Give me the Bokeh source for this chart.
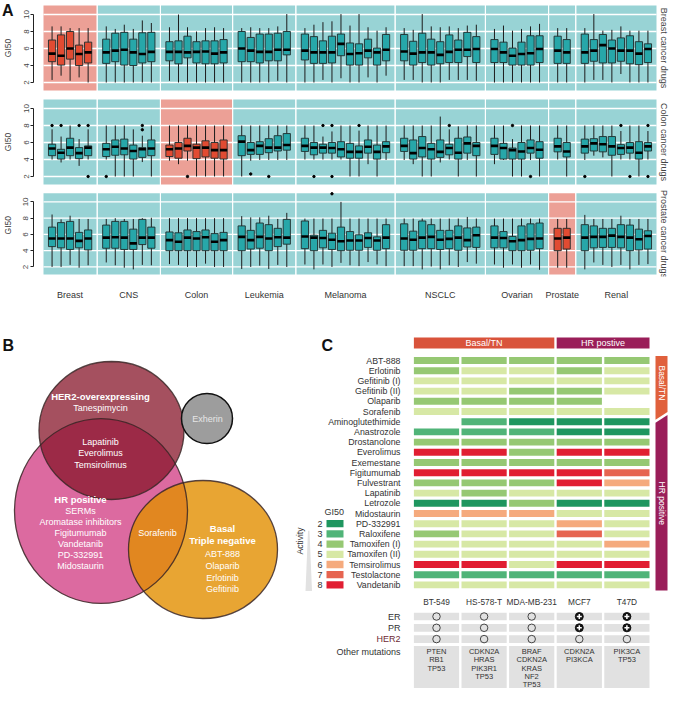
import math
from bokeh.plotting import figure
from bokeh.layouts import column, row
from bokeh.models import Range1d, LinearAxis, FixedTicker
from bokeh.core.properties import value
from bokeh.embed import file_html
from bokeh.resources import INLINE

FONT = value("Liberation Sans")

# ------------------------------------------------------------------ data A
tissues = ["Breast", "CNS", "Colon", "Leukemia", "Melanoma", "NSCLC", "Ovarian", "Prostate", "Renal"]
n_lines = [5, 6, 7, 6, 10, 9, 6, 2, 8]
drug_groups = ["Breast cancer drugs", "Colon cancer drugs", "Prostate cancer drugs"]
highlight_tissue = ["Breast", "Colon", "Prostate"]

# Breast cancer drugs (59 cell lines, tissue order above)
bd_lo = [2.3, 2.8, 2.2, 2.6, 2.0, 2.0, 2.0, 2.0, 2.0, 2.0, 2.0, 2.2, 2.0, 2.0, 2.0, 2.0, 2.0, 2.0,
         2.0, 2.0, 2.0, 2.0, 2.2, 2.0, 2.0, 2.0, 2.3, 2.0, 2.5, 2.0, 2.0, 2.6, 2.0, 2.8,
         2.3, 2.3, 2.0, 2.0, 2.0, 2.3, 2.3, 2.3, 2.2, 2.0, 2.0, 2.0, 2.0, 2.0, 2.0, 2.0, 2.0,
         2.0, 2.3, 2.3, 2.0, 3.0, 2.0, 2.0, 2.0]
bd_q1 = [4.45, 4.05, 4.75, 4.0, 4.3, 4.25, 4.45, 4.05, 4.0, 4.3, 4.45, 4.55, 4.2, 4.9, 4.3, 4.2, 4.2, 4.3,
         4.45, 4.45, 4.3, 4.55, 4.55, 5.25, 4.65, 4.25, 4.25, 4.3, 5.15, 4.05, 4.05, 4.9, 4.05, 4.55,
         4.55, 4.05, 4.35, 4.05, 4.2, 4.35, 4.35, 5.05, 4.35, 4.35, 4.35, 4.05, 4.05, 4.05, 4.35, 4.25, 4.25,
         4.25, 4.5, 4.3, 4.3, 4.5, 4.2, 4.1, 4.35]
bd_med = [5.4, 5.15, 6.0, 5.35, 5.55, 5.55, 5.75, 5.85, 5.55, 5.35, 5.6, 5.6, 5.6, 5.55, 5.6, 5.65, 5.4, 5.55,
          6.0, 5.75, 5.6, 5.6, 5.85, 5.85, 5.75, 5.55, 5.55, 5.55, 6.55, 5.35, 5.45, 5.75, 5.55, 5.85,
          5.65, 5.4, 5.55, 5.55, 5.25, 5.6, 5.85, 5.85, 5.95, 5.95, 5.55, 5.15, 5.35, 5.45, 5.95, 5.75, 5.55,
          5.55, 5.75, 6.4, 6.0, 5.75, 5.75, 5.4, 5.95]
bd_q3 = [7.0, 7.6, 8.0, 6.4, 6.75, 7.1, 7.8, 7.9, 7.1, 7.85, 7.9, 6.8, 6.9, 7.45, 6.8, 6.9, 6.9, 7.05,
         8.0, 7.3, 7.7, 7.7, 7.8, 8.0, 7.7, 7.4, 6.9, 7.45, 7.7, 6.65, 6.55, 7.1, 6.05, 7.65,
         7.65, 6.85, 7.8, 7.1, 6.8, 7.6, 7.0, 7.9, 7.4, 7.05, 6.75, 6.05, 6.75, 7.5, 7.5, 7.45, 7.05,
         7.7, 7.05, 7.65, 7.0, 7.25, 7.5, 6.8, 6.55]
bd_hi = [8.6, 8.6, 8.4, 8.4, 8.4, 8.6, 8.3, 8.8, 8.3, 9.3, 9.0, 8.5, 10.0, 8.5, 8.0, 8.4, 8.5, 8.4,
         8.4, 8.5, 8.4, 8.4, 8.6, 10.05, 8.4, 8.8, 9.1, 9.2, 10.05, 8.7, 10.05, 8.5, 8.1, 8.5,
         8.4, 8.2, 10.05, 8.6, 8.5, 8.6, 8.4, 8.7, 8.8, 8.3, 8.7, 8.1, 8.3, 8.6, 8.9, 8.4, 8.4,
         8.4, 10.05, 8.1, 8.2, 8.6, 8.1, 8.1, 8.1]
bd_out_idx = []
bd_out_val = []

# Colon cancer drugs
cd_lo = [4.0, 3.65, 4.0, 3.25, 4.0, 4.0, 2.0, 2.0, 2.0, 3.7, 2.0, 3.85, 3.45, 3.85, 2.0, 2.0, 2.0, 2.0,
         2.0, 3.85, 3.95, 3.95, 3.95, 3.95, 4.0, 4.0, 4.0, 4.0, 4.0, 2.0, 2.0, 3.45, 2.0, 3.95,
         3.95, 3.45, 2.0, 2.0, 3.65, 4.0, 2.0, 3.95, 2.0, 3.45, 3.95, 2.0, 2.0, 3.95, 2.0, 4.0, 2.0,
         3.95, 4.45, 4.25, 2.0, 4.0, 4.0, 2.0, 4.0]
cd_q1 = [4.45, 4.05, 4.45, 4.1, 4.45, 4.35, 4.5, 4.55, 4.05, 4.25, 4.45, 4.35, 4.15, 5.0, 4.1, 4.3, 4.15, 4.05,
         4.45, 4.6, 4.6, 4.8, 5.0, 5.1, 4.95, 4.55, 4.75, 4.75, 4.3, 4.15, 4.15, 4.75, 4.05, 4.8,
         4.95, 4.05, 4.3, 4.05, 4.25, 4.55, 4.05, 4.75, 4.45, 4.6, 4.05, 4.05, 4.05, 4.75, 4.15, 4.9, 4.3,
         4.75, 5.0, 4.9, 4.5, 4.6, 4.75, 4.05, 5.0]
cd_med = [5.3, 4.8, 5.4, 4.75, 5.4, 5.2, 5.5, 5.3, 5.0, 5.2, 5.3, 5.2, 5.3, 5.6, 5.4, 5.4, 5.1, 5.1,
          6.1, 5.1, 5.6, 5.4, 5.4, 5.7, 5.6, 5.4, 5.4, 5.35, 5.2, 4.9, 4.9, 5.5, 4.9, 5.55,
          5.6, 4.75, 5.35, 5.2, 4.9, 5.35, 4.8, 5.9, 5.6, 5.6, 5.35, 5.1, 4.95, 5.35, 5.15, 5.55, 4.95,
          5.55, 5.9, 5.8, 5.55, 5.35, 5.4, 4.8, 5.55]
cd_q3 = [5.8, 5.2, 6.5, 5.4, 5.6, 5.9, 6.3, 6.4, 5.7, 5.4, 6.3, 5.7, 6.0, 6.5, 5.8, 6.2, 6.0, 6.3,
         6.8, 6.0, 6.1, 6.45, 6.8, 7.05, 6.5, 6.0, 5.8, 6.0, 6.1, 5.9, 5.6, 6.3, 5.7, 6.1,
         6.5, 6.3, 6.7, 5.9, 6.3, 5.8, 6.5, 6.65, 6.0, 6.5, 5.9, 5.35, 6.0, 6.3, 6.1, 6.5, 6.0,
         6.4, 6.45, 6.7, 6.7, 5.75, 6.0, 6.1, 6.0]
cd_hi = [7.55, 6.7, 8.0, 6.4, 7.55, 8.0, 8.0, 8.0, 7.55, 6.8, 8.0, 8.0, 8.0, 8.0, 8.0, 8.0, 8.0, 8.0,
         8.0, 8.0, 8.0, 8.0, 8.0, 8.0, 8.0, 8.0, 6.7, 7.3, 8.0, 8.0, 7.4, 8.0, 8.0, 8.0,
         8.0, 8.0, 8.0, 8.0, 9.05, 7.55, 7.9, 8.0, 8.0, 8.0, 8.0, 6.4, 8.0, 8.0, 8.0, 8.0, 8.0,
         8.0, 8.0, 8.0, 8.0, 7.35, 8.0, 8.0, 7.35]
cd_out_idx = [0, 1, 3, 4, 4, 5, 9, 9, 13, 19, 21, 25, 26, 27, 27, 30, 39, 45, 47, 51, 55, 56, 58, 58]
cd_out_val = [8, 8, 8, 8, 2, 2, 8, 7.5, 2, 2.3, 2, 2, 8, 8, 2, 8, 8, 8, 2, 2, 8, 2, 8, 2]

# Prostate cancer drugs
pd_lo = [2.0, 2.0, 2.25, 1.9, 2.2, 2.55, 2.2, 1.9, 1.7, 2.25, 2.2, 2.35, 2.25, 2.0, 2.0, 2.4, 2.0, 2.0,
         1.75, 2.0, 2.15, 1.75, 2.25, 2.0, 2.3, 1.7, 2.3, 2.0, 2.5, 2.2, 2.1, 2.6, 2.3, 2.1,
         2.1, 2.1, 1.7, 2.05, 1.7, 2.2, 2.0, 2.6, 2.4, 2.3, 1.9, 2.3, 1.9, 2.3, 1.65, 1.9, 1.9,
         1.7, 2.55, 2.25, 2.0, 2.25, 1.7, 2.25, 2.35]
pd_q1 = [4.5, 4.35, 4.15, 4.35, 4.1, 4.3, 4.3, 4.15, 4.15, 4.75, 4.3, 4.0, 4.0, 4.0, 4.0, 4.0, 4.0, 4.0,
         4.0, 4.2, 4.3, 4.0, 4.5, 4.8, 4.25, 4.0, 4.35, 4.15, 4.0, 4.05, 4.05, 4.4, 4.05, 4.25,
         4.05, 4.05, 4.25, 4.25, 4.15, 4.25, 4.05, 4.45, 4.4, 4.35, 4.35, 4.0, 4.0, 4.05, 4.25, 4.0, 4.2,
         4.0, 4.35, 4.4, 4.4, 4.35, 4.0, 4.1, 4.2]
pd_med = [5.5, 5.5, 5.5, 5.2, 5.5, 5.6, 5.65, 5.6, 4.9, 5.6, 5.6, 5.3, 5.1, 5.6, 5.5, 5.65, 5.1, 5.3,
          5.7, 5.3, 5.7, 5.5, 5.65, 5.6, 5.75, 5.6, 5.55, 5.35, 5.15, 5.25, 5.25, 5.55, 5.25, 5.6,
          5.5, 5.35, 5.6, 5.7, 5.35, 5.45, 5.6, 5.3, 5.9, 5.6, 5.55, 5.15, 5.3, 5.45, 5.5, 5.5, 5.6,
          5.6, 5.7, 5.7, 5.85, 5.7, 5.6, 5.4, 5.8]
pd_q3 = [6.9, 7.45, 7.6, 6.25, 6.55, 7.15, 7.6, 7.6, 6.65, 7.85, 6.9, 6.3, 6.2, 6.55, 6.35, 6.55, 6.1, 6.25,
         7.05, 6.5, 7.4, 7.2, 6.75, 7.85, 7.65, 5.9, 6.5, 6.15, 6.9, 6.35, 5.95, 6.2, 5.7, 7.2,
         7.3, 6.4, 7.65, 7.2, 6.5, 6.5, 7.05, 6.8, 6.9, 7.05, 6.35, 5.75, 7.05, 7.3, 7.4, 6.75, 6.75,
         7.2, 7.05, 6.75, 6.75, 7.2, 7.15, 6.65, 6.45]
pd_hi = [8.45, 7.85, 8.3, 7.9, 7.9, 7.9, 8.0, 7.9, 7.9, 8.0, 8.05, 8.0, 8.0, 8.0, 8.0, 8.0, 8.0, 8.0,
         8.25, 8.1, 8.1, 8.3, 7.9, 8.65, 7.95, 7.95, 7.95, 7.95, 10.0, 7.95, 7.95, 7.95, 7.95, 7.95,
         7.95, 7.95, 7.95, 7.95, 7.95, 7.95, 7.95, 8.15, 7.95, 7.95, 7.95, 7.95, 7.95, 7.95, 7.95, 7.9, 7.9,
         8.4, 7.9, 7.9, 7.9, 8.3, 7.9, 7.9, 7.9]
pd_out_idx = [27]
pd_out_val = [11.0]

# ------------------------------------------------------------------ data C
drugs = ["ABT-888", "Erlotinib", "Gefitinib (I)", "Gefitinib (II)", "Olaparib", "Sorafenib",
         "Aminoglutethimide", "Anastrozole", "Drostanolone", "Everolimus", "Exemestane",
         "Figitumumab", "Fulvestrant", "Lapatinib", "Letrozole", "Midostaurin", "PD-332991",
         "Raloxifene", "Tamoxifen (I)", "Tamoxifen (II)", "Temsirolimus", "Testolactone", "Vandetanib"]
cell_lines = ["BT-549", "HS-578-T", "MDA-MB-231", "MCF7", "T47D"]
gi50_bt549 = [4, 4, 5, 5, 4, 5, None, 3, 4, 8, 4, 8, 4, 5, 2, 6, 5, 4, 5, 5, 8, 3, 5]
gi50_hs578t = [4, 5, 5, 5, 4, 5, 3, 3, 4, 8, 4, 8, 4, 4, 2, 6, 5, 5, 5, 5, 8, 3, 5]
gi50_mdamb231 = [4, 5, 5, 4, 4, 5, 2, 3, 4, 4, 4, 8, 4, 5, 4, 6, 5, 5, 5, 5, 5, 3, 5]
gi50_mcf7 = [4, 4, 5, 4, 4, 5, 2, 2, 4, 8, 4, 8, 8, 5, 2, 5, 6, 7, 5, 5, 8, 3, 5]
gi50_t47d = [4, 5, 5, 5, None, 5, 2, 2, 4, 8, 4, 7, 6, 5, 2, 5, 5, 5, 6, 5, 8, 3, 5]
gi50_levels = [2, 3, 4, 5, 6, 7, 8]
gi50_colors = ["#1e965f", "#50b478", "#96c873", "#d7e8a5", "#f5aa7d", "#e66450", "#e11e32"]
er_status = [0, 0, 0, 1, 1]
pr_status = [0, 0, 0, 1, 1]
her2_status = [0, 0, 0, 0, 0]
mutations = [["PTEN", "RB1", "TP53"], ["CDKN2A", "HRAS", "PIK3R1", "TP53"],
             ["BRAF", "CDKN2A", "KRAS", "NF2", "TP53"], ["CDKN2A", "PI3KCA"], ["PIK3CA", "TP53"]]
n_basal_drugs = 6

# ------------------------------------------------------------------ styles
TEAL_BG = "#98d3d5"
PINK_BG = "#eca096"
TEAL_BOX = "#27a7a9"
RED_BOX = "#e14b32"


def mk(width, height, xr, yr, **kw):
    p = figure(width=width, height=height, x_range=xr, y_range=yr,
               x_axis_type=None, y_axis_type=None, toolbar_location=None,
               output_backend="svg", min_border=0, outline_line_color=None,
               background_fill_color="white", border_fill_color="white", **kw)
    return p


# ------------------------------------------------------------------ Panel A
PXU = 8.5                      # px per GI50 unit
LABEL_W = 18
PANEL_L, PANEL_R, FRAME_L, FRAME_R = 43.0, 656.0, 33.0, 669.0
u = (PANEL_R - PANEL_L - (len(n_lines) - 1)) / sum(n + 0.9 for n in n_lines)
gap = 1.0 / u
f_start, f_end, xs, box_tissue = [], [], [], []
pos = 0.0
for k, n in enumerate(n_lines):
    f_start.append(pos)
    for j in range(n):
        xs.append(pos + 0.95 + j)
        box_tissue.append(tissues[k])
    pos += n + 0.9
    f_end.append(pos)
    pos += gap
TOTAL = f_end[-1]
XS = -(PANEL_L - FRAME_L) / u
XE = TOTAL + (FRAME_R - PANEL_R) / u
f_center = [(a + b) / 2 for a, b in zip(f_start, f_end)]


def panel_a(r, lo, q1, med, q3, hi, oi, ov, fig_h, ftop, fbot, y10, show_x):
    vt = 10 + (y10 - ftop) / PXU
    vb = 10 - (fbot - y10) / PXU
    p = mk(int(FRAME_R - LABEL_W), fig_h, Range1d(XS, XE), Range1d(vb, vt),
           min_border_left=int(FRAME_L - LABEL_W), min_border_bottom=(22 if show_x else 0))
    bg = [PINK_BG if t == highlight_tissue[r] else TEAL_BG for t in tissues]
    p.quad(left=f_start, right=f_end, bottom=1.06, top=11.06, fill_color=bg, line_color=None)
    gy = [2, 4, 6, 8, 10]
    p.segment(x0=[0] * 5, x1=[TOTAL] * 5, y0=gy, y1=gy, line_color="white", line_width=1.3)
    p.quad(left=f_end[:-1], right=f_start[1:], bottom=1.0, top=11.2, fill_color="white", line_color=None)
    fc = [RED_BOX if t == highlight_tissue[r] else TEAL_BOX for t in box_tissue]
    p.segment(x0=xs, x1=xs, y0=lo, y1=hi, line_color="#1c1c1c", line_width=1)
    p.quad(left=[x - 0.4 for x in xs], right=[x + 0.4 for x in xs], bottom=q1, top=q3,
           fill_color=fc, line_color="#1f2d2d", line_width=0.9)
    p.segment(x0=[x - 0.4 for x in xs], x1=[x + 0.4 for x in xs], y0=med, y1=med,
              line_color="black", line_width=2.6)
    if oi:
        p.scatter(x=[xs[i] for i in oi], y=ov, size=2.4, color="black")
    p.text(x=[TOTAL + 7.8 / u], y=[6.06], text=[drug_groups[r]], angle=-math.pi / 2,
           text_align="center", text_baseline="middle", text_font=FONT,
           text_font_size="9px", text_color="#444444")
    ax = LinearAxis(ticker=FixedTicker(ticks=[2, 4, 6, 8, 10]), bounds=(2, 10))
    ax.major_label_orientation = "vertical"
    ax.major_tick_out = 3
    ax.major_tick_in = 0
    ax.minor_tick_out = 0
    ax.minor_tick_in = 0
    ax.major_label_standoff = 2
    ax.axis_line_color = "#222222"
    ax.major_tick_line_color = "#222222"
    ax.major_label_text_font = "Liberation Sans"
    ax.major_label_text_font_size = "8px"
    ax.major_label_text_color = "#444444"
    p.add_layout(ax, "left")
    if show_x:
        bx = LinearAxis(ticker=FixedTicker(ticks=f_center),
                        major_label_overrides={c: t for c, t in zip(f_center, tissues)})
        bx.axis_line_color = None
        bx.major_tick_line_color = None
        bx.minor_tick_line_color = None
        bx.major_label_standoff = 7
        bx.major_label_text_font = "Liberation Sans"
        bx.major_label_text_font_size = "9px"
        bx.major_label_text_color = "#333333"
        p.add_layout(bx, "below")
    return p


def label_a(fig_h, yc, with_letter):
    q = mk(LABEL_W, fig_h, Range1d(0, LABEL_W), Range1d(fig_h, 0))
    q.text(x=[7.5], y=[yc], text=["GI50"], angle=math.pi / 2, text_align="center",
           text_baseline="middle", text_font=FONT, text_font_size="8.5px", text_color="#444444")
    if with_letter:
        q.text(x=[1.5], y=[1.5], text=["A"], text_align="left", text_baseline="top", text_font=FONT,
               text_font_size="16px", text_font_style="bold", text_color="#111111")
    return q


pA1 = panel_a(0, bd_lo, bd_q1, bd_med, bd_q3, bd_hi, bd_out_idx, bd_out_val, 94, 0, 94, 14, False)
pA2 = panel_a(1, cd_lo, cd_q1, cd_med, cd_q3, cd_hi, cd_out_idx, cd_out_val, 94, 94, 188, 108, False)
pA3 = panel_a(2, pd_lo, pd_q1, pd_med, pd_q3, pd_hi, pd_out_idx, pd_out_val, 114, 188, 280, 202, True)
lA1 = label_a(94, 47.5, True)
lA2 = label_a(94, 141.5 - 94, False)
lA3 = label_a(114, 235.5 - 188, False)

# ------------------------------------------------------------------ Panel B
B_W = 292
pB = mk(B_W, 386, Range1d(0, B_W), Range1d(688, 302))
pB.ellipse(x=[100.5], y=[510.5], width=[173], height=[185], fill_color="#dc6aa0", line_color=None)
pB.ellipse(x=[202.5], y=[549], width=[149], height=[138], fill_color="#e28e00", fill_alpha=0.8, line_color=None)
pB.ellipse(x=[111], y=[430], width=[145], height=[138], fill_color="#871529", fill_alpha=0.75, line_color=None)
pB.ellipse(x=[100.5, 202.5, 111], y=[510.5, 549, 430], width=[173, 149, 145], height=[185, 138, 138],
           fill_color=None, line_color="#3a2626", line_width=1.3, line_alpha=0.85)
pB.ellipse(x=[206.5], y=[418], width=[51], height=[50], fill_color="#9d9d9d", line_color="#111111", line_width=1.5)

b_bold = [("HER2-overexpressing", 100, 396), ("HR positive", 80, 498.5),
          ("Basal", 222, 527.5), ("Triple negative", 222, 540)]
b_norm = [("Tanespimycin", 100, 407.5), ("Lapatinib", 100, 441), ("Everolimus", 100, 452.5),
          ("Temsirolimus", 100, 464), ("SERMs", 80, 510), ("Aromatase inhibitors", 80, 521.5),
          ("Figitumumab", 80, 532.5), ("Vandetanib", 80, 543.5), ("PD-332991", 80, 554.5),
          ("Midostaurin", 80, 565.5), ("Sorafenib", 157, 532), ("ABT-888", 222, 553),
          ("Olaparib", 222, 565), ("Erlotinib", 222, 577), ("Gefitinib", 222, 588)]
pB.text(x=[t[1] for t in b_bold], y=[t[2] for t in b_bold], text=[t[0] for t in b_bold],
        text_align="center", text_baseline="middle", text_font=FONT, text_font_size="9.5px",
        text_font_style="bold", text_color="white")
pB.text(x=[t[1] for t in b_norm], y=[t[2] for t in b_norm], text=[t[0] for t in b_norm],
        text_align="center", text_baseline="middle", text_font=FONT, text_font_size="9px",
        text_color="white")
pB.text(x=[207], y=[418], text=["Exherin"], text_align="center", text_baseline="middle",
        text_font=FONT, text_font_size="9px", text_color="#e6e6e6")
pB.text(x=[2], y=[336], text=["B"], text_align="left", text_baseline="top", text_font=FONT,
        text_font_size="16px", text_font_style="bold", text_color="#111111")

# ------------------------------------------------------------------ Panel C
PX_C, PY_C, CX0, CY0 = 47.6, 10.2, 436.0, 360.0


def cx(px):
    return (px - CX0) / PX_C


def cy(py):
    return (py - CY0) / PY_C


pC = mk(669 - B_W, 386, Range1d(cx(B_W), cx(669)), Range1d(cy(688), cy(302)))
TXT = dict(text_font=FONT, text_color="#333333")
ndr = len(drugs)

# header bars
pC.quad(left=[-0.475, 2.525], right=[2.475, 4.475], top=[cy(337)] * 2, bottom=[cy(348)] * 2,
        fill_color=["#d9533b", "#9a1e59"], line_color=None)
pC.text(x=[1.0, 3.5], y=[cy(342.5)] * 2, text=["Basal/TN", "HR postive"], text_align="center",
        text_baseline="middle", text_font=FONT, text_font_size="9px", text_color="white")

# heatmap
gi_cols = [gi50_bt549, gi50_hs578t, gi50_mdamb231, gi50_mcf7, gi50_t47d]
cmap = dict(zip(gi50_levels, gi50_colors))
hx, hy, hc = [], [], []
for ci, col in enumerate(gi_cols):
    for ri, v in enumerate(col):
        if v is not None:
            hx.append(ci)
            hy.append(ri)
            hc.append(cmap[v])
pC.rect(x=hx, y=hy, width=0.95, height=0.68, fill_color=hc, line_color=None)
pC.text(x=[cx(400)] * ndr, y=list(range(ndr)), text=drugs, text_align="right",
        text_baseline="middle", text_font_size="8.8px", **TXT)

# right group bars
nb = n_basal_drugs
bl, br = cx(655), cx(667)
pC.patch(x=[bl, br, br, bl], y=[-0.45, -0.45, nb - 0.95, nb - 0.2], fill_color="#e0603c", line_color=None)
pC.patch(x=[bl, br, br, bl], y=[nb + 0.1, nb - 0.65, ndr - 0.45, ndr - 0.45],
         fill_color="#9a1e59", line_color=None)
pC.text(x=[(bl + br) / 2], y=[(nb - 1) / 2 - 0.3], text=["Basal/TN"], angle=-math.pi / 2,
        text_align="center", text_baseline="middle", text_font=FONT, text_font_size="8.5px",
        text_color="white")
pC.text(x=[(bl + br) / 2], y=[(nb + ndr - 1) / 2], text=["HR positive"], angle=-math.pi / 2,
        text_align="center", text_baseline="middle", text_font=FONT, text_font_size="8.5px",
        text_color="white")

# legend (rows aligned with the last seven heatmap rows)
leg_rows = [ndr - len(gi50_levels) + i for i in range(len(gi50_levels))]
pC.rect(x=[cx(334.5)] * len(gi50_levels), y=leg_rows, width=17 / PX_C, height=0.72,
        fill_color=gi50_colors, line_color=None)
pC.text(x=[cx(322)] * len(gi50_levels), y=leg_rows, text=[str(v) for v in gi50_levels],
        text_align="right", text_baseline="middle", text_font_size="9px", **TXT)
pC.text(x=[cx(324)], y=[leg_rows[0] - 1.1], text=["GI50"], text_align="left", text_baseline="middle",
        text_font_size="9px", **TXT)
pC.patch(x=[cx(307.5), cx(309), cx(311.5), cx(305)],
         y=[leg_rows[0] + 0.7, leg_rows[0] + 0.7, leg_rows[-1] + 0.6, leg_rows[-1] + 0.6],
         fill_color="#e2e2e2", line_color=None)
pC.text(x=[cx(299.5)], y=[leg_rows[0] + 1.7], text=["Activity"], angle=math.pi / 2, text_align="center",
        text_baseline="middle", text_font_size="8.5px", **TXT)
pC.text(x=[cx(321)], y=[cy(336)], text=["C"], text_align="left", text_baseline="top", text_font=FONT,
        text_font_size="16px", text_font_style="bold", text_color="#111111")

# table
ncol = len(cell_lines)
cols = list(range(ncol))
pC.text(x=cols, y=[cy(601)] * ncol, text=cell_lines, text_align="center", text_baseline="middle",
        text_font_size="8.3px", **TXT)
status_rows = [("ER", er_status, cy(616)), ("PR", pr_status, cy(627.3)), ("HER2", her2_status, cy(638.6))]
for name, st, yy in status_rows:
    pC.rect(x=cols, y=[yy] * ncol, width=0.95, height=0.75, fill_color="#e1e1e1", line_color=None)
    neg = [c for c in cols if st[c] == 0]
    pos_ = [c for c in cols if st[c] == 1]
    if neg:
        pC.scatter(x=neg, y=[yy] * len(neg), size=7.5, fill_color=None, line_color="#333333", line_width=0.9)
    if pos_:
        pC.scatter(x=pos_, y=[yy] * len(pos_), size=8, fill_color="#111111", line_color="#111111")
        pC.scatter(x=pos_, y=[yy] * len(pos_), marker="cross", size=5, line_color="white", line_width=1.5)
pC.text(x=[cx(400)] * 3, y=[r[2] for r in status_rows], text=[r[0] for r in status_rows],
        text_align="right", text_baseline="middle", text_font=FONT, text_font_size="9px",
        text_color=["#333333", "#333333", "#6e2a33"])
pC.text(x=[cx(400)], y=[cy(651)], text=["Other mutations"], text_align="right", text_baseline="middle",
        text_font_size="9px", **TXT)
pC.quad(left=[c - 0.475 for c in cols], right=[c + 0.475 for c in cols], top=[cy(645.5)] * ncol,
        bottom=[cy(689)] * ncol, fill_color="#e1e1e1", line_color=None)
mx, my, mt = [], [], []
for c, muts in enumerate(mutations):
    for j, m in enumerate(muts):
        mx.append(c)
        my.append(cy(651 + 8.3 * j))
        mt.append(m)
pC.text(x=mx, y=my, text=mt, text_align="center", text_baseline="middle", text_font_size="7.5px", **TXT)

# ------------------------------------------------------------------ layout
layout = column(row(lA1, pA1), row(lA2, pA2), row(lA3, pA3), row(pB, pC))
open("out.html", "w").write(file_html(layout, INLINE))
